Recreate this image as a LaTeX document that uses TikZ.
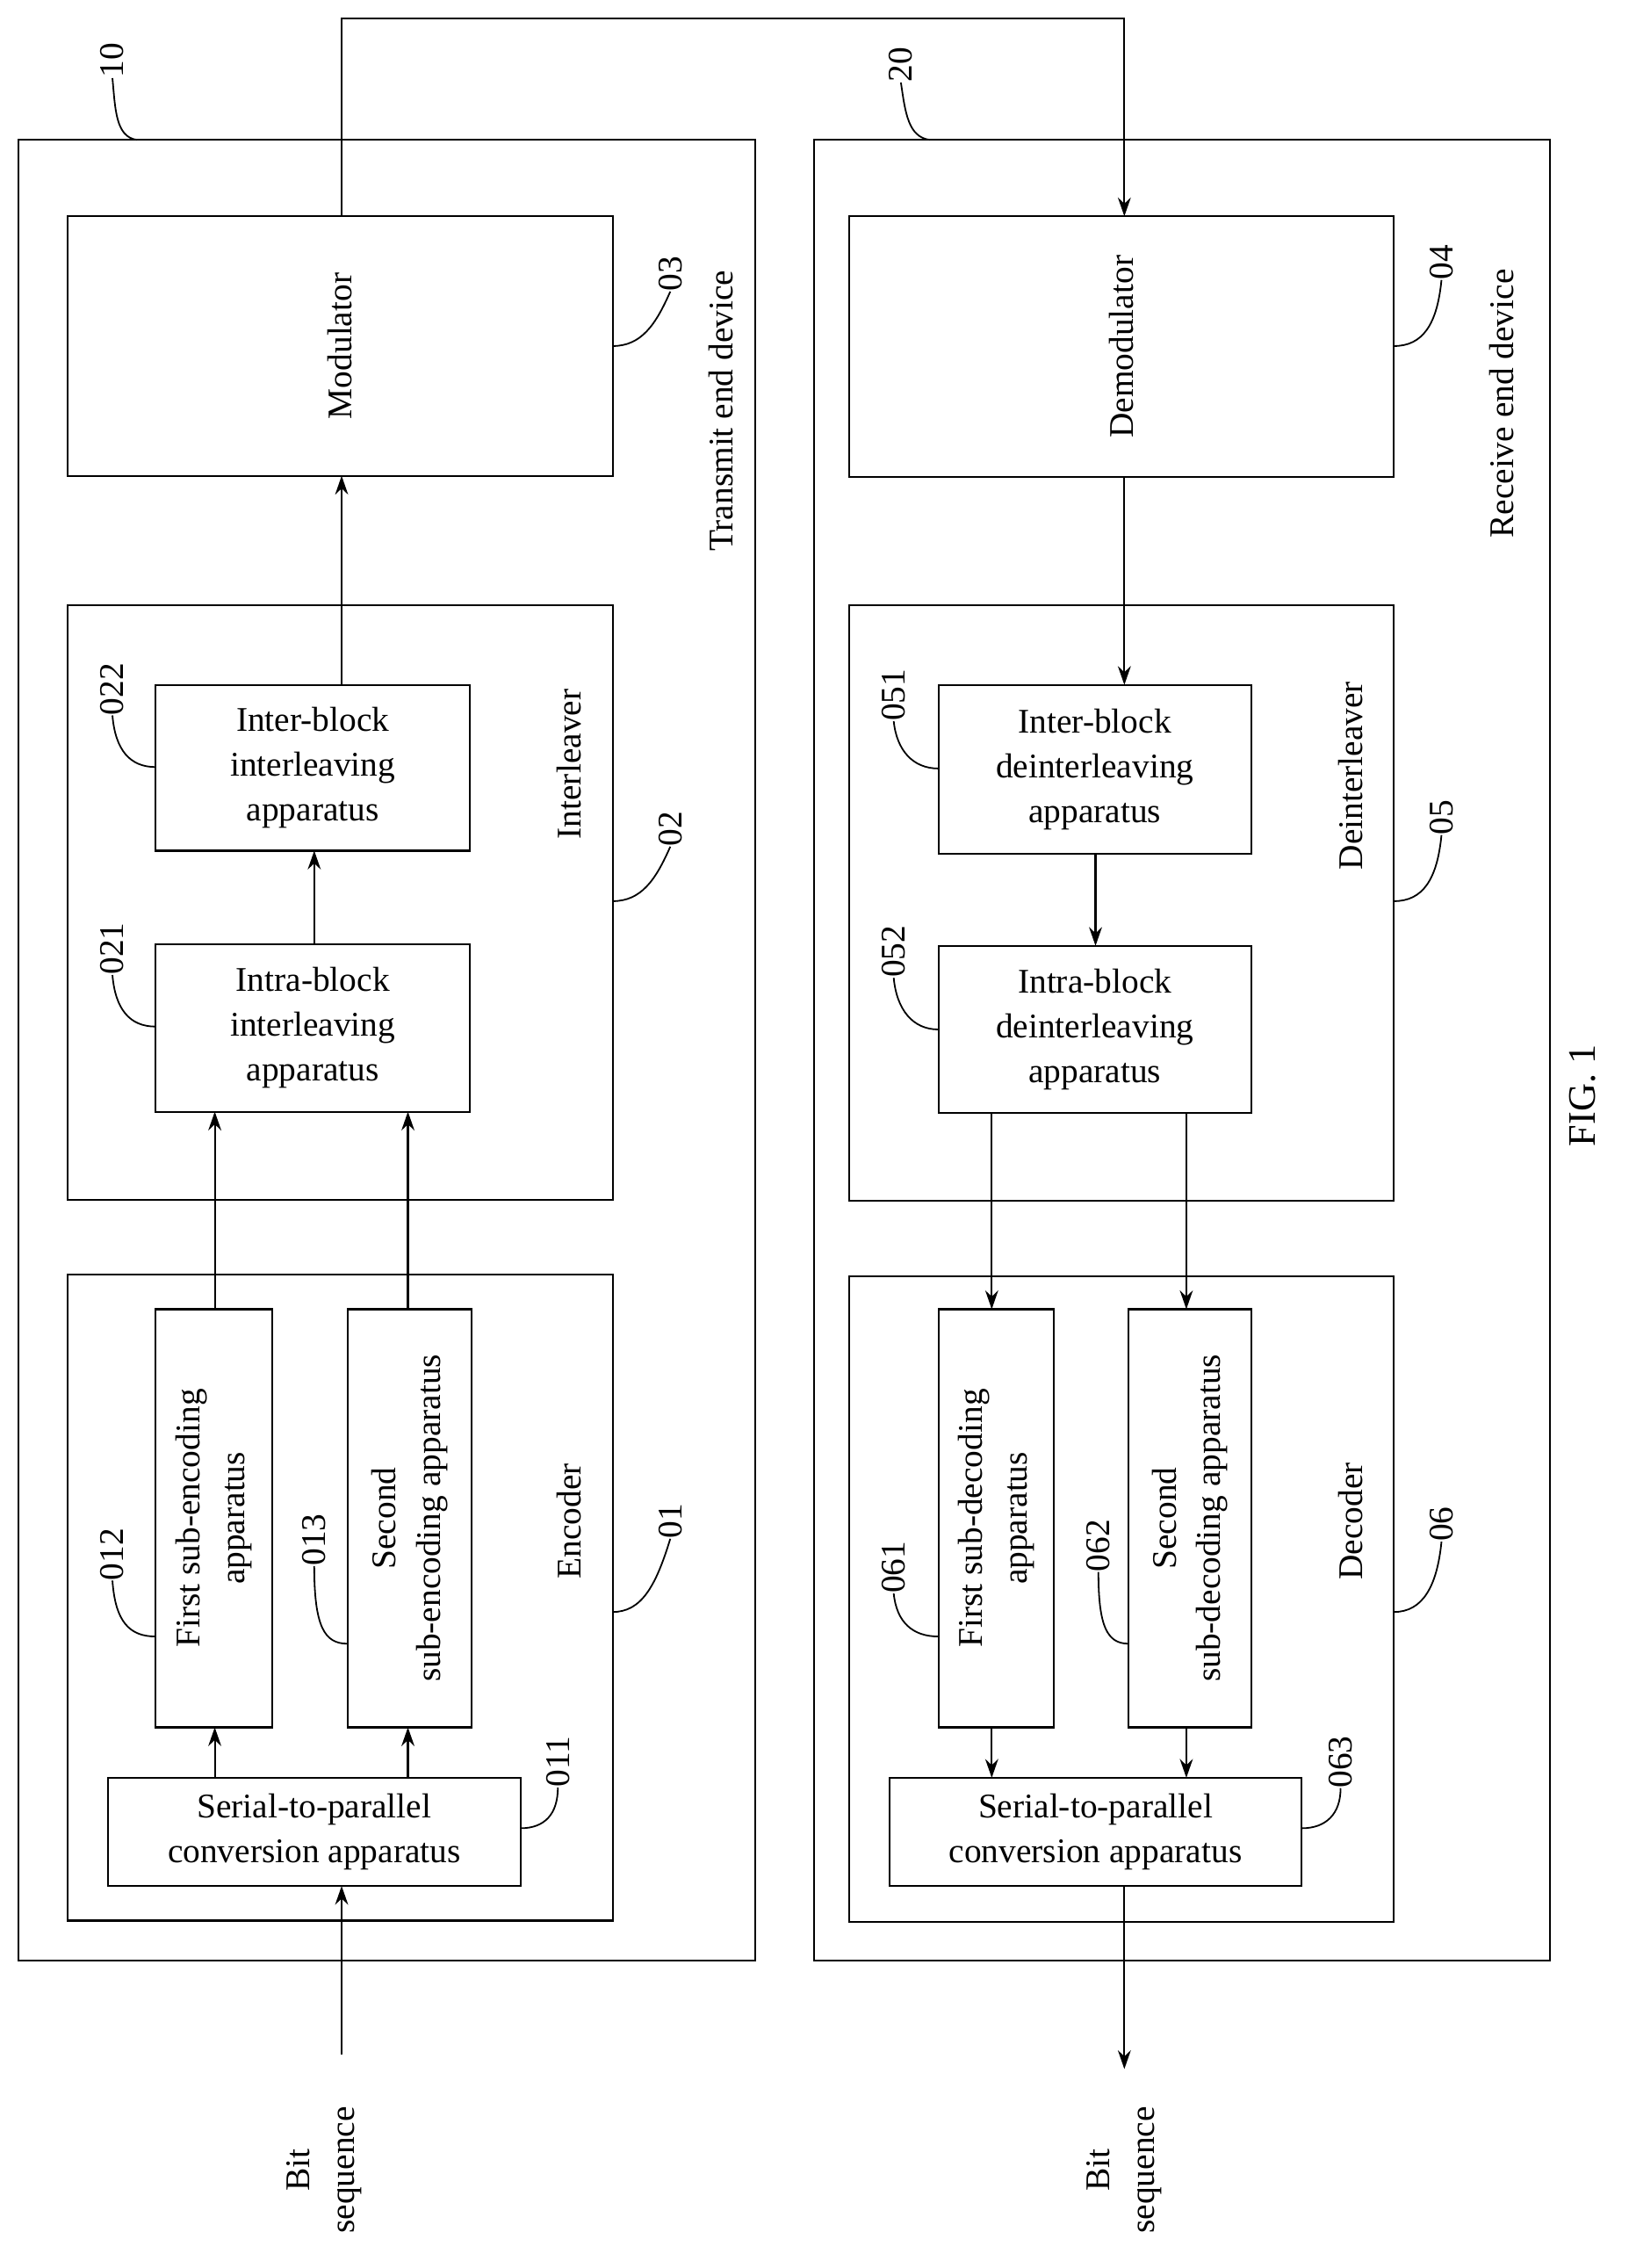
\documentclass[tikz,border=0pt]{standalone}
\usepackage{fontspec}
\setmainfont{Liberation Serif}
\usetikzlibrary{arrows.meta}
\begin{document}
\begin{tikzpicture}[x=1pt,y=-1pt,
  bx/.style={draw,line width=1.3pt},
  t/.style={font=\fontsize{24}{31}\selectfont,align=center,inner sep=0pt},
  r/.style={t,rotate=90},
  ar/.style={line width=1.3pt,-{Stealth[length=13pt,width=9pt]}},
  ln/.style={line width=1.1pt}]
\useasboundingbox (0,0) rectangle (1130,1573);
% outer boxes
\node[bx,minimum width=511pt,minimum height=1263pt,inner sep=0pt] (tx) at (268.5,728.5) {};
\node[bx,minimum width=510pt,minimum height=1263pt,inner sep=0pt] (rx) at (820,728.5) {};
\node[r] (l10) at (78,42) {10};
\node[r] (l20) at (625,45) {20};
\draw[ln] (95,97) .. controls (80,95) and (80,75) .. (l10.west);
\draw[ln] (645,97) .. controls (630,95) and (628,78) .. (l20.west);
\node[r] at (500,285) {Transmit end device};
\node[r] at (1042,280) {Receive end device};
\node[r,font=\fontsize{27}{31}\selectfont] at (1098,760) {FIG. 1};
% transmit
\node[bx,minimum width=378pt,minimum height=180pt] (mod) at (236,240) {};
\node[r] at (mod) {Modulator};
\node[bx,minimum width=378pt,minimum height=412pt] (il) at (236,626) {};
\node[r] at (395,530) {Interleaver};
\node[bx,minimum width=218pt,minimum height=115pt,t] (inter) at (217,532.5) {Inter-block\\interleaving\\apparatus};
\node[bx,minimum width=218pt,minimum height=116pt,t] (intra) at (217,713) {Intra-block\\interleaving\\apparatus};
\node[bx,minimum width=378pt,minimum height=448pt] (enc) at (236,1108) {};
\node[r] at (395,1055) {Encoder};
\node[bx,minimum width=81pt,minimum height=290pt] (fe) at (148.5,1053) {};
\node[r] at (fe) {First sub-encoding\\apparatus};
\node[bx,minimum width=86pt,minimum height=290pt] (se) at (284,1053) {};
\node[r] at (se) {Second\\sub-encoding apparatus};
\node[bx,minimum width=286pt,minimum height=75pt,t] (sp) at (218,1270.5) {Serial-to-parallel\\conversion apparatus};
\node[r,t] (bs1) at (225,1505) {Bit\\sequence};
\coordinate (in1) at (237,1425);
\draw[ar] (in1) -- (237,1308);
\draw[ar] (149,1233) -- (149,1198);
\draw[ar] (283,1233) -- (283,1198);
\draw[ar] (149,908) -- (149,771);
\draw[ar] (283,908) -- (283,771);
\draw[ar] (218,655) -- (218,590);
\draw[ar] (237,475) -- (237,330);
\draw[ar] (237,150) -- (237,13) -- (780,13) -- (780,150);
% labels transmit
\node[r] (n03) at (465,190) {03};
\draw[ln] (425,240) .. controls (445,240) and (455,225) .. (n03.west);
\node[r] (n02) at (465,575) {02};
\draw[ln] (425,625) .. controls (445,625) and (455,610) .. (n02.west);
\node[r] (n01) at (465,1055) {01};
\draw[ln] (425,1118) .. controls (445,1118) and (455,1100) .. (n01.west);
\node[r] (n022) at (78,478) {022};
\draw[ln] (108,532) .. controls (90,532) and (80,520) .. (n022.west);
\node[r] (n021) at (78,658) {021};
\draw[ln] (108,712) .. controls (90,712) and (80,700) .. (n021.west);
\node[r] (n012) at (78,1078) {012};
\draw[ln] (108,1135) .. controls (90,1135) and (80,1125) .. (n012.west);
\node[r] (n013) at (218,1068) {013};
\draw[ln] (241,1140) .. controls (225,1140) and (218,1128) .. (n013.west);
\node[r] (n011) at (387,1222) {011};
\draw[ln] (361,1268) .. controls (378,1268) and (387,1258) .. (n011.west);
% receive
\node[bx,minimum width=378pt,minimum height=181pt] (dem) at (778,240.5) {};
\node[r] at (dem) {Demodulator};
\node[bx,minimum width=378pt,minimum height=413pt] (dil) at (778,626.5) {};
\node[r] at (937,538) {Deinterleaver};
\node[bx,minimum width=217pt,minimum height=117pt,t] (dinter) at (759.5,533.5) {Inter-block\\deinterleaving\\apparatus};
\node[bx,minimum width=217pt,minimum height=116pt,t] (dintra) at (759.5,714) {Intra-block\\deinterleaving\\apparatus};
\node[bx,minimum width=378pt,minimum height=448pt] (dec) at (778,1109) {};
\node[r] at (937,1055) {Decoder};
\node[bx,minimum width=80pt,minimum height=290pt] (fd) at (691,1053) {};
\node[r] at (fd) {First sub-decoding\\apparatus};
\node[bx,minimum width=85pt,minimum height=290pt] (sd) at (825.5,1053) {};
\node[r] at (sd) {Second\\sub-decoding apparatus};
\node[bx,minimum width=286pt,minimum height=75pt,t] (dsp) at (760,1270.5) {Serial-to-parallel\\conversion apparatus};
\node[r,t] (bs2) at (780,1505) {Bit\\sequence};
\coordinate (out2) at (780,1435);
\draw[ar] (780,331) -- (780,475);
\draw[ar] (760,592) -- (760,656);
\draw[ar] (688,772) -- (688,908);
\draw[ar] (823,772) -- (823,908);
\draw[ar] (688,1198) -- (688,1233);
\draw[ar] (823,1198) -- (823,1233);
\draw[ar] (780,1308) -- (out2);
\node[r] (n04) at (1000,182) {04};
\draw[ln] (967,240) .. controls (987,240) and (997,225) .. (n04.west);
\node[r] (n05) at (1000,567) {05};
\draw[ln] (967,625) .. controls (987,625) and (997,610) .. (n05.west);
\node[r] (n06) at (1000,1057) {06};
\draw[ln] (967,1118) .. controls (987,1118) and (997,1100) .. (n06.west);
\node[r] (n051) at (620,482) {051};
\draw[ln] (651,533) .. controls (633,533) and (622,520) .. (n051.west);
\node[r] (n052) at (620,660) {052};
\draw[ln] (651,714) .. controls (633,714) and (622,700) .. (n052.west);
\node[r] (n061) at (620,1087) {061};
\draw[ln] (651,1135) .. controls (633,1135) and (622,1125) .. (n061.west);
\node[r] (n062) at (762,1072) {062};
\draw[ln] (783,1140) .. controls (768,1140) and (762,1128) .. (n062.west);
\node[r] (n063) at (930,1222) {063};
\draw[ln] (903,1268) .. controls (920,1268) and (930,1258) .. (n063.west);
\end{tikzpicture}
\end{document}
